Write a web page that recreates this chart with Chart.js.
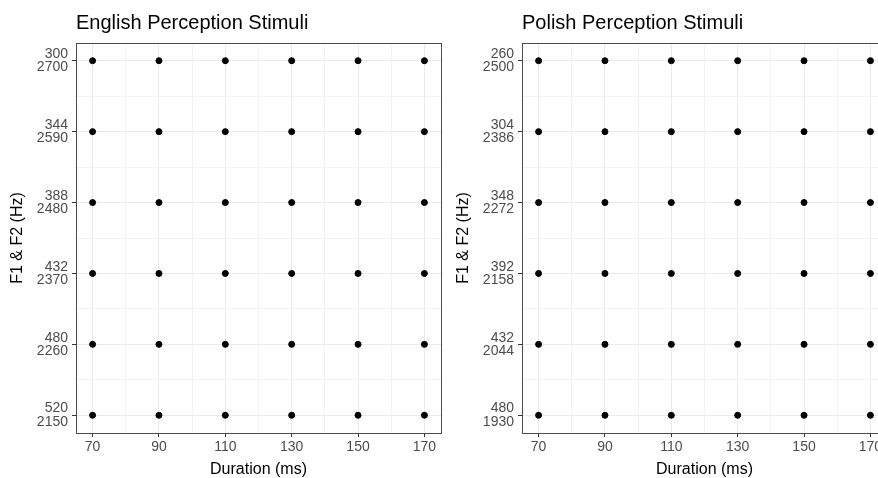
<!DOCTYPE html>
<html>
<head>
<meta charset="utf-8">
<script src="https://cdn.jsdelivr.net/npm/chart.js@4.4.1/dist/chart.umd.min.js"></script>
<style>
  html, body { margin: 0; padding: 0; background: #fff; overflow: hidden; }
  body { width: 878px; height: 478px; position: relative; }
  .panel { position: absolute; top: 0; height: 478px; width: 450px; }
  #left { left: 0; }
  #right { left: 446px; }
</style>
</head>
<body>
<div class="panel" id="left"><canvas id="chartEnglish"></canvas></div>
<div class="panel" id="right"><canvas id="chartPolish"></canvas></div>
<script>
// stimulus grid: 6 durations x 6 formant steps
var durations = [70, 90, 110, 130, 150, 170];
var englishF1 = [300, 344, 388, 432, 480, 520];
var englishF2 = [2700, 2590, 2480, 2370, 2260, 2150];
var polishF1 = [260, 304, 348, 392, 432, 480];
var polishF2 = [2500, 2386, 2272, 2158, 2044, 1930];
var xTicks = [70, 80, 90, 100, 110, 120, 130, 140, 150, 160, 170];
var stepTicks = [1, 1.5, 2, 2.5, 3, 3.5, 4, 4.5, 5, 5.5, 6];

Chart.defaults.font.family = "'Liberation Sans', Arial, sans-serif";

function gridPoints(f1) {
  var pts = [];
  f1.forEach(function (v, i) {
    durations.forEach(function (d) { pts.push({ x: d, y: i + 1 }); });
  });
  return pts;
}

// ggplot-like panel border + title aligned to the panel
var panelDeco = {
  id: 'panelDeco',
  afterDraw: function (chart, args, opts) {
    var a = chart.chartArea, ctx = chart.ctx;
    ctx.save();
    ctx.strokeStyle = '#4d4d4d';
    ctx.lineWidth = 1;
    ctx.strokeRect(Math.round(a.left) + 0.5, Math.round(a.top) + 0.5,
      Math.round(a.right - a.left), Math.round(a.bottom - a.top));
    ctx.fillStyle = '#000';
    ctx.font = "20px 'Liberation Sans', Arial, sans-serif";
    ctx.textBaseline = 'middle';
    ctx.fillText(opts.text, a.left, 23);
    ctx.restore();
  }
};

function isMajorX(v) { return (v - 70) % 20 === 0; }
function isMajorY(v) { return Number.isInteger(v); }

function makeChart(id, title, f1, f2) {
  new Chart(document.getElementById(id), {
    type: 'scatter',
    data: {
      datasets: [{
        data: gridPoints(f1),
        backgroundColor: '#000',
        borderColor: '#000',
        pointRadius: 3,
        pointHoverRadius: 3
      }]
    },
    options: {
      responsive: true,
      maintainAspectRatio: false,
      animation: false,
      layout: { padding: { top: 43, right: 9, left: 0, bottom: 0 } },
      plugins: {
        legend: { display: false },
        tooltip: { enabled: false },
        panelDeco: { text: title }
      },
      scales: {
        x: {
          type: 'linear',
          min: 65, max: 175,
          afterBuildTicks: function (s) { s.ticks = xTicks.map(function (v) { return { value: v }; }); },
          afterFit: function (s) { s.height = 45; },
          border: { display: false },
          grid: {
            color: '#ebebeb',
            lineWidth: function (c) { return isMajorX(c.tick.value) ? 1 : 0.6; },
            tickLength: 4,
            tickColor: function (c) { return isMajorX(c.tick.value) ? '#333' : 'rgba(0,0,0,0)'; }
          },
          ticks: {
            color: '#4d4d4d',
            font: { size: 14, lineHeight: 1.0 },
            padding: 3,
            maxRotation: 0,
            autoSkip: false,
            callback: function (v) { return isMajorX(v) ? String(v) : ''; }
          },
          title: { display: true, text: 'Duration (ms)', color: '#000', font: { size: 16, lineHeight: 1.0 }, padding: { top: 2, bottom: 0 } }
        },
        y: {
          type: 'linear',
          reverse: true,
          min: 0.75, max: 6.25,
          afterBuildTicks: function (s) { s.ticks = stepTicks.map(function (v) { return { value: v }; }); },
          afterFit: function (s) { s.width = 76; },
          border: { display: false },
          grid: {
            color: '#ebebeb',
            lineWidth: function (c) { return isMajorY(c.tick.value) ? 1 : 0.6; },
            tickLength: 4,
            tickColor: function (c) { return isMajorY(c.tick.value) ? '#333' : 'rgba(0,0,0,0)'; }
          },
          ticks: {
            color: '#4d4d4d',
            font: { size: 14, lineHeight: 0.95 },
            padding: 4,
            autoSkip: false,
            callback: function (v) {
              if (!isMajorY(v)) return '';
              return [String(f1[v - 1]), String(f2[v - 1])];
            }
          },
          title: { display: true, text: 'F1 & F2 (Hz)', color: '#000', font: { size: 16, lineHeight: 1.0 }, padding: { top: 10, bottom: 0 } }
        }
      }
    },
    plugins: [panelDeco]
  });
}

makeChart('chartEnglish', 'English Perception Stimuli', englishF1, englishF2);
makeChart('chartPolish', 'Polish Perception Stimuli', polishF1, polishF2);
</script>
</body>
</html>
